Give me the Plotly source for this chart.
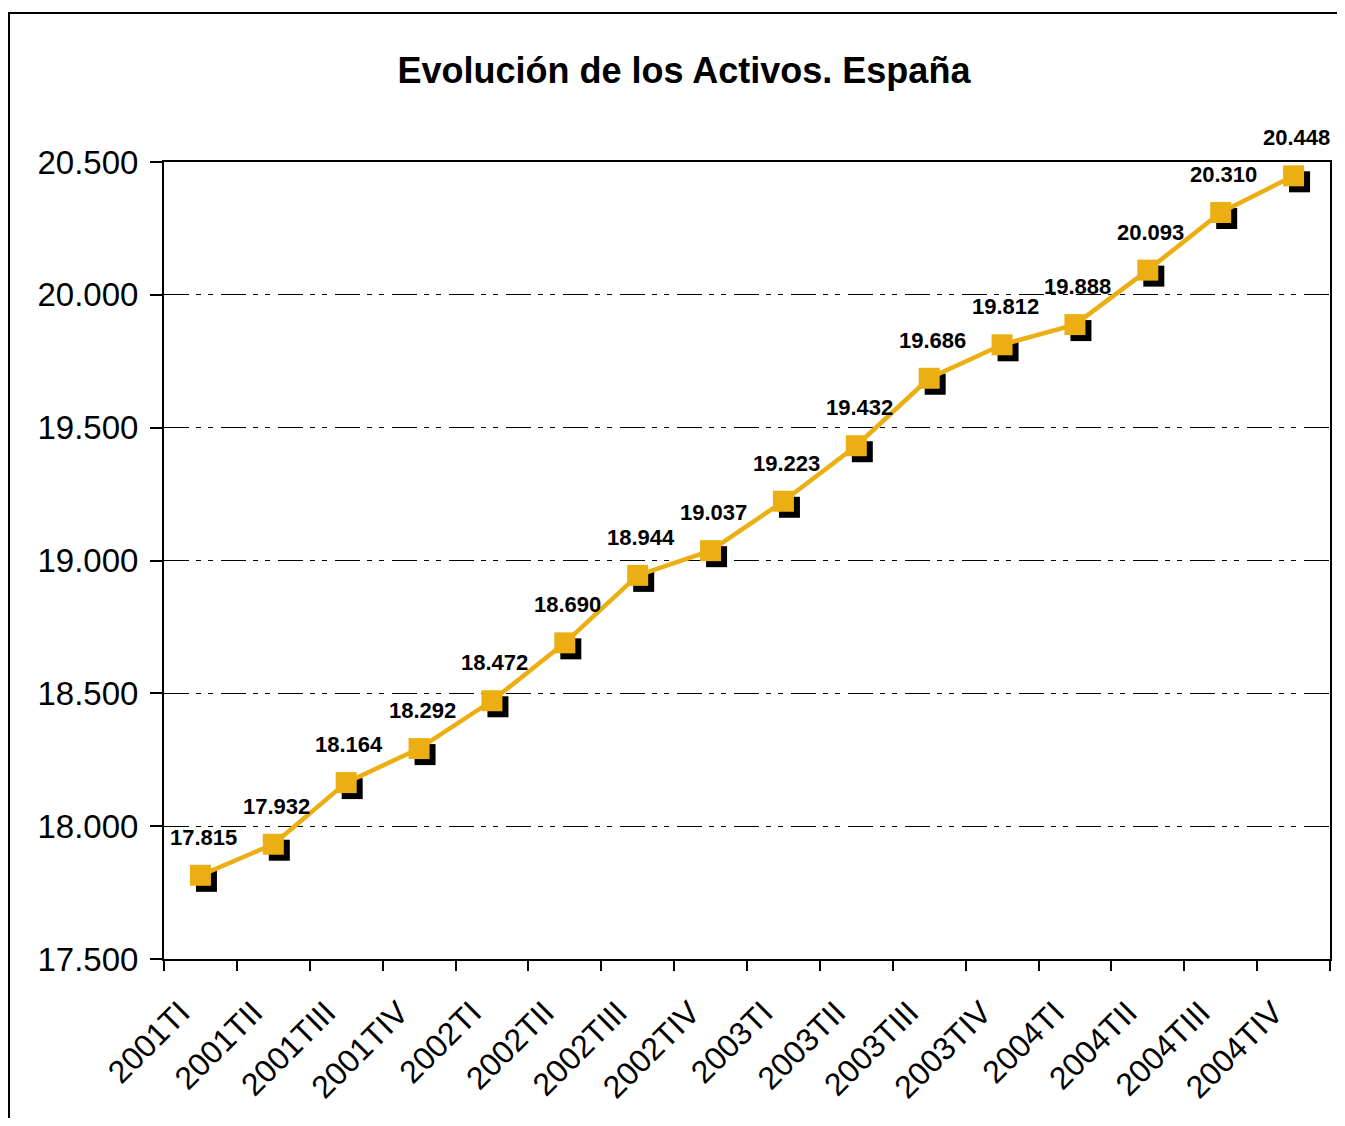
import plotly.graph_objects as go

categories = ["2001TI", "2001TII", "2001TIII", "2001TIV",
              "2002TI", "2002TII", "2002TIII", "2002TIV",
              "2003TI", "2003TII", "2003TIII", "2003TIV",
              "2004TI", "2004TII", "2004TIII", "2004TIV"]
activos = [17815, 17932, 18164, 18292, 18472, 18690, 18944, 19037,
           19223, 19432, 19686, 19812, 19888, 20093, 20310, 20448]
title_text = "Evolución de los Activos. España"

# page body has an 8px margin, so figure pixels = reference pixels - 8
W, H = 1337, 1110
ML, MT = 156, 154
PW, PH = 1166, 797
MR = W - ML - PW
MB = H - MT - PH
YMIN, YMAX = 17500, 20500
N = len(categories)
S = 6  # shadow offset px

GOLD = "#EBAF13"
FONT = "Liberation Sans, Arial, sans-serif"

fig = go.Figure()

# shadow markers (on shifted hidden axes)
fig.add_trace(go.Scatter(
    x=categories, y=activos, mode="markers", xaxis="x", yaxis="y",
    marker=dict(symbol="square", size=21, color="black"),
    cliponaxis=False, hoverinfo="skip", showlegend=False))

# main line
fig.add_trace(go.Scatter(
    x=categories, y=activos, mode="lines+markers", xaxis="x2", yaxis="y2",
    line=dict(color=GOLD, width=4.5),
    marker=dict(symbol="square", size=21, color=GOLD),
    cliponaxis=False, showlegend=False))

def fmt(v):
    return f"{v:,}".replace(",", ".")

for c, v in zip(categories, activos):
    fig.add_annotation(x=c, y=v, xref="x2", yref="y2", text=fmt(v),
                       showarrow=False, yshift=38, xshift=3,
                       font=dict(family=FONT, size=22, color="black", weight="bold"))

fig.add_shape(type="rect", xref="paper", yref="paper",
              x0=(1 - ML) / PW, x1=(W + 10 - ML) / PW,
              y0=(PH + MT - (H + 10)) / PH, y1=(PH + MT - 5) / PH,
              line=dict(color="black", width=2), fillcolor="rgba(0,0,0,0)")

fig.update_layout(
    width=W, height=H,
    margin=dict(l=ML, r=MR, t=MT, b=MB),
    paper_bgcolor="white", plot_bgcolor="rgba(0,0,0,0)",
    separators=",.",
    title=dict(text=title_text, x=(684 - 8) / W, xref="container", xanchor="center",
               y=1 - 62 / H, yanchor="middle",
               font=dict(family=FONT, size=36, color="black", weight="bold")),
    font=dict(family=FONT, color="black"),
    xaxis=dict(type="category", categoryarray=categories, visible=False,
               domain=[S / PW, 1], range=[-0.5, N - 0.5 - S * N / PW],
               anchor="y"),
    yaxis=dict(visible=False, domain=[0, 1 - S / PH],
               range=[YMIN + S * (YMAX - YMIN) / PH, YMAX], anchor="x"),
    xaxis2=dict(type="category", categoryarray=categories, domain=[0, 1],
                range=[-0.5, N - 0.5], anchor="y2",
                showline=True, linecolor="black", linewidth=2, mirror=True,
                ticks="outside", tickson="boundaries", ticklen=10,
                tickwidth=2, tickcolor="black",
                tickangle=-45, showgrid=False,
                ticklabelstandoff=20, ticklabelshift=-20,
                tickfont=dict(family=FONT, size=32, color="black")),
    yaxis2=dict(domain=[0, 1], range=[YMIN, YMAX], dtick=500, tick0=YMIN,
                anchor="x2", tickformat=",d",
                showline=True, linecolor="black", linewidth=2, mirror=True,
                ticks="outside", ticklen=12, tickwidth=2, tickcolor="black",
                ticklabelstandoff=5,
                showgrid=True, gridcolor="black", gridwidth=1,
                griddash="25px,7px,5px,7px,5px,8px",
                zeroline=False,
                tickfont=dict(family=FONT, size=33, color="black")),
)

fig.write_html("out.html")
